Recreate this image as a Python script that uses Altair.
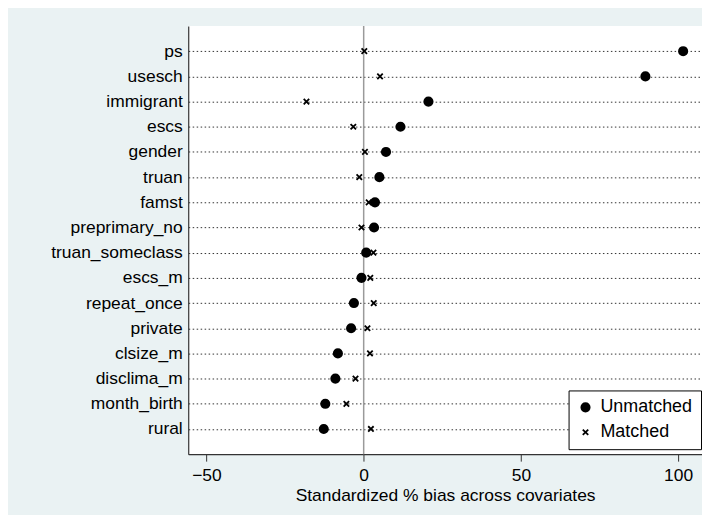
import altair as alt
import pandas as pd

variables = ["ps", "usesch", "immigrant", "escs", "gender", "truan", "famst",
             "preprimary_no", "truan_someclass", "escs_m", "repeat_once",
             "private", "clsize_m", "disclima_m", "month_birth", "rural"]
unmatched = [101.6, 89.6, 20.6, 11.7, 7.1, 5.0, 3.6, 3.3, 0.8, -0.7, -3.1,
             -4.0, -8.2, -9.0, -12.2, -12.7]
matched = [0.2, 5.2, -18.2, -3.3, 0.4, -1.4, 1.6, -0.7, 3.1, 2.1, 3.2,
           1.2, 2.0, -2.6, -5.5, 2.3]
series = ["Unmatched", "Matched"]
x_ticks = [-50, 0, 50, 100]

rows = []
for v, u, m in zip(variables, unmatched, matched):
    rows.append({"variable": v, "bias": u, "sample": "Unmatched"})
    rows.append({"variable": v, "bias": m, "sample": "Matched"})
df = pd.DataFrame(rows)
zero_df = pd.DataFrame({"bias": [0]})

XPATH = "M-1,-1L1,1M-1,1L1,-1"
FONT = "Liberation Sans"
BG = "#EAF2F3"

xscale = alt.Scale(domain=[-55.8, 107.6], nice=False, zero=False)
xaxis = alt.Axis(values=x_ticks, title="Standardized % bias across covariates",
                 grid=False)

legend = alt.Legend(title=None, orient="none", legendX=382, legendY=366,
                    fillColor="white", strokeColor="black", padding=8,
                    labelFontSize=18, labelFont=FONT, labelColor="black",
                    rowPadding=7, labelOffset=6, symbolStrokeWidth=1.8,
                    symbolStrokeColor="black")

rule = alt.Chart(zero_df).mark_rule(color="#9a9a9a", strokeWidth=1.5).encode(
    x=alt.X("bias:Q", scale=xscale, axis=xaxis)
)

points = alt.Chart(df).mark_point(strokeWidth=1.8, opacity=1).encode(
    x=alt.X("bias:Q", scale=xscale, axis=xaxis),
    y=alt.Y("variable:N", sort=variables,
            scale=alt.Scale(type="point", padding=1.2),
            axis=alt.Axis(title=None, grid=True, gridDash=[1.5, 2.5],
                          gridColor="#333333", gridWidth=1, ticks=False,
                          labelPadding=6)),
    shape=alt.Shape("sample:N", scale=alt.Scale(domain=series, range=["circle", XPATH]),
                    legend=legend),
    fill=alt.Fill("sample:N", scale=alt.Scale(domain=series, range=["black", "transparent"]),
                  legend=legend),
    stroke=alt.Stroke("sample:N", scale=alt.Scale(domain=series, range=["black", "black"]),
                      legend=legend),
    size=alt.Size("sample:N", scale=alt.Scale(domain=series, range=[70, 30]),
                  legend=legend),
)

chart = alt.layer(rule, points).properties(
    width=516, height=430,
    padding={"left": 181, "top": 17, "right": 0, "bottom": 60},
    autosize=alt.AutoSizeParams(type="none"),
    background=BG,
).configure_view(
    fill="white", strokeWidth=0
).configure_axis(
    labelFont=FONT, titleFont=FONT, labelFontSize=17.5, titleFontSize=17.5,
    labelColor="black", titleColor="black", titleFontWeight="normal",
    domainColor="#333333", tickColor="#333333", domainWidth=1.2,
).configure_axisX(
    tickSize=7, labelPadding=5, titlePadding=3
)

chart.save("out.html", embed_options={"renderer": "svg", "actions": False})
